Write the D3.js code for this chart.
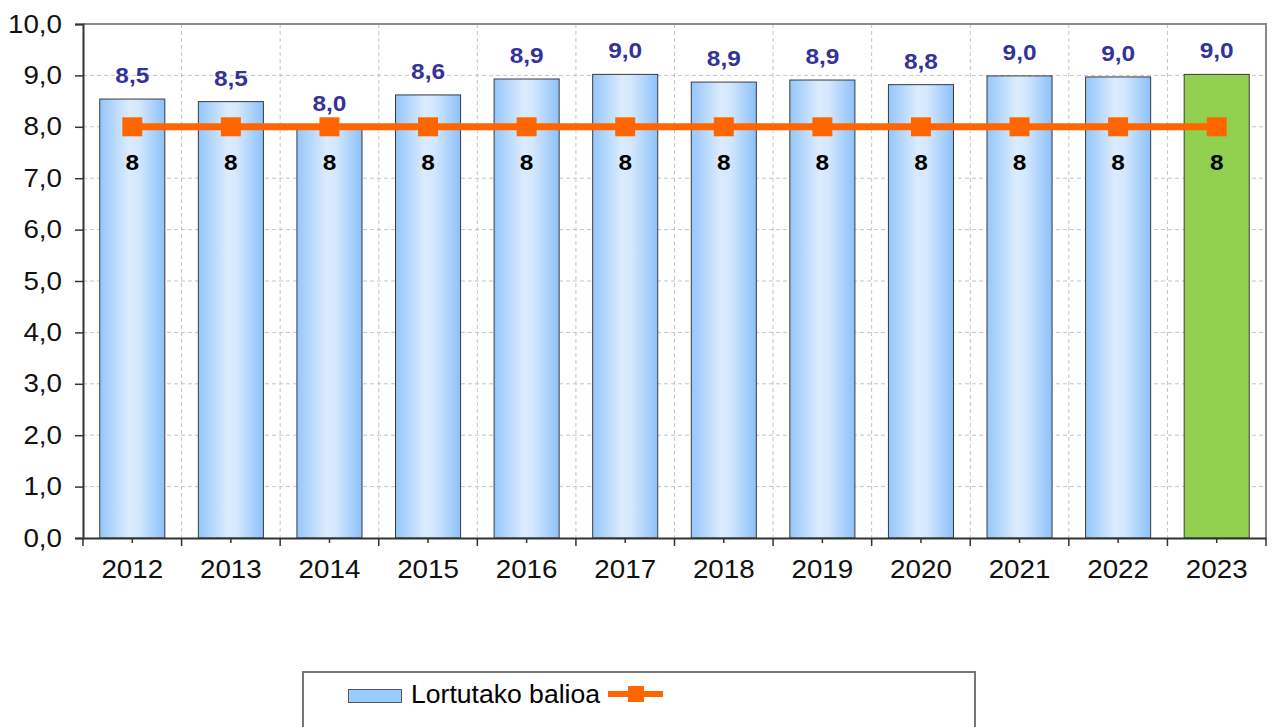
<!DOCTYPE html>
<html><head><meta charset="utf-8">
<script src="https://cdn.jsdelivr.net/npm/d3@7"></script>
<style>body{margin:0;background:#fff}svg{display:block;font-family:"Liberation Sans",Arial,sans-serif}</style>
</head><body><svg id="c" width="1275" height="727"></svg>
<script>
const years = ["2012","2013","2014","2015","2016","2017","2018","2019","2020","2021","2022","2023"];
const values = [8.54, 8.49, 8.0, 8.62, 8.93, 9.02, 8.87, 8.91, 8.82, 8.99, 8.97, 9.02];
const valueLabels = ["8,5","8,5","8,0","8,6","8,9","9,0","8,9","8,9","8,8","9,0","9,0","9,0"];
const target = [8,8,8,8,8,8,8,8,8,8,8,8];
const yTicks = [0,1,2,3,4,5,6,7,8,9,10];
const legendLabel = "Lortutako balioa";

const svg = d3.select("#c");
const L = 83, R = 1266, T = 24, B = 538;
const SX = 1.11;
const x = d3.scaleBand().domain(years).range([L, R]).paddingInner(0.34).paddingOuter(0.17);
const xb = d3.scaleBand().domain(years).range([L, R]);
const y = d3.scaleLinear().domain([0, 10]).range([B, T]);

const defs = svg.append("defs");
const g = defs.append("linearGradient").attr("id","barg").attr("x1","0").attr("x2","1").attr("y1","0").attr("y2","0");
g.append("stop").attr("offset","0").attr("stop-color","#94c6fb");
g.append("stop").attr("offset","0.45").attr("stop-color","#dbecfd");
g.append("stop").attr("offset","0.6").attr("stop-color","#d3e7fd");
g.append("stop").attr("offset","1").attr("stop-color","#8cc1fb");

// grid
svg.append("g").selectAll("line").data(yTicks.slice(1)).join("line")
  .attr("x1", L).attr("x2", R).attr("y1", d => y(d)).attr("y2", d => y(d))
  .attr("stroke", "#c4c4c4").attr("stroke-dasharray", "4,3");
svg.append("g").selectAll("line").data(years.slice(1)).join("line")
  .attr("x1", d => xb(d)).attr("x2", d => xb(d)).attr("y1", T).attr("y2", B)
  .attr("stroke", "#c4c4c4").attr("stroke-dasharray", "4,3");
// border top/right
svg.append("path").attr("d", `M${L},${T}H${R}V${B}`).attr("fill","none").attr("stroke","#8a8a8a").attr("stroke-width",2);

// bars
svg.append("g").selectAll("rect").data(years).join("rect")
  .attr("x", d => x(d)).attr("width", x.bandwidth())
  .attr("y", (d,i) => y(values[i])).attr("height", (d,i) => y(0) - y(values[i]))
  .attr("fill", (d,i) => i === years.length-1 ? "#92d050" : "url(#barg)")
  .attr("stroke", "#3a3a3a").attr("stroke-width", 1);

// y axis
const ya = svg.append("g").attr("transform", `translate(${L},0)`)
  .call(d3.axisLeft(y).tickValues(yTicks).tickSize(8).tickPadding(14).tickFormat(d => d3.format(".1f")(d).replace(".", ",")));
ya.select(".domain").attr("stroke","#333").attr("stroke-width",2);
ya.selectAll(".tick line").attr("stroke","#333").attr("stroke-width",1.5);
ya.selectAll("text").attr("font-size", 25).attr("fill","#111").attr("font-family","Liberation Sans, Arial, sans-serif")
  .attr("transform", `scale(${SX},1)`).attr("x", -21/SX);

// x axis
const xa = svg.append("g").attr("transform", `translate(0,${B})`)
  .call(d3.axisBottom(x).tickSize(5).tickPadding(17).tickSizeOuter(0));
xa.select(".domain").attr("stroke","#333").attr("stroke-width",2);
xa.selectAll(".tick line").attr("stroke","#333").attr("stroke-width",1.5);
xa.selectAll("text").attr("font-size", 25).attr("fill","#111").attr("font-family","Liberation Sans, Arial, sans-serif")
  .attr("transform", `scale(${SX},1)`);
svg.append("g").selectAll("line").data(years.concat(["end"])).join("line")
  .attr("x1", d => d === "end" ? R : xb(d)).attr("x2", d => d === "end" ? R : xb(d))
  .attr("y1", B).attr("y2", B + 8).attr("stroke","#333").attr("stroke-width",1.5);

const cx = d => x(d) + x.bandwidth()/2;

// value labels
svg.append("g").selectAll("text").data(years).join("text")
  .attr("transform", (d,i) => `translate(${cx(d)},${y(values[i]) - 16}) scale(${SX},1)`)
  .attr("text-anchor","middle").attr("font-size", 22).attr("font-weight","bold").attr("fill","#333399")
  .text((d,i) => valueLabels[i]);

// target line
svg.append("path").datum(years)
  .attr("d", d3.line().x(d => cx(d)).y((d,i) => y(target[i])))
  .attr("fill","none").attr("stroke","#ff6600").attr("stroke-width",7);
svg.append("g").selectAll("rect").data(years).join("rect")
  .attr("x", d => cx(d) - 10).attr("y", (d,i) => y(target[i]) - 9.5)
  .attr("width", 20).attr("height", 19).attr("fill","#ff6600");
svg.append("g").selectAll("text").data(years).join("text")
  .attr("transform", (d,i) => `translate(${cx(d)},${y(target[i]) + 43}) scale(${SX},1)`)
  .attr("text-anchor","middle").attr("font-size", 22).attr("font-weight","bold").attr("fill","#000")
  .text((d,i) => target[i]);

// legend
const lg = svg.append("g");
lg.append("rect").attr("x", 303).attr("y", 672).attr("width", 672).attr("height", 70)
  .attr("fill","#fff").attr("stroke","#777").attr("stroke-width",2);
lg.append("rect").attr("x", 348.5).attr("y", 689.5).attr("width", 53).attr("height", 13)
  .attr("fill","#99ccff").attr("stroke","#555");
lg.append("text").attr("x", 411).attr("y", 703).attr("font-size", 25).attr("fill","#000")
  .attr("textLength", 189).attr("lengthAdjust","spacingAndGlyphs").text(legendLabel);
lg.append("line").attr("x1", 608).attr("x2", 663).attr("y1", 694).attr("y2", 694)
  .attr("stroke","#ff6600").attr("stroke-width",6);
lg.append("rect").attr("x", 628).attr("y", 686).attr("width", 16).attr("height", 16).attr("fill","#ff6600");
</script></body></html>
